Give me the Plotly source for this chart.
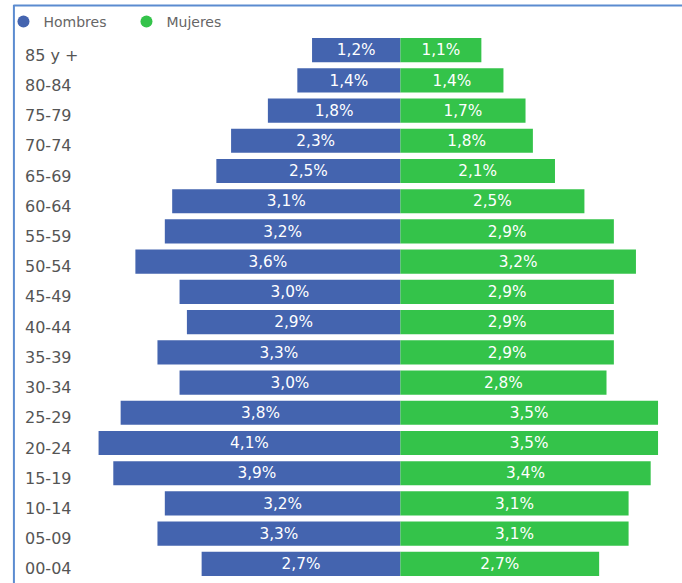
import plotly.graph_objects as go

# Age groups, oldest at the top
grupos = ["85 y +", "80-84", "75-79", "70-74", "65-69", "60-64", "55-59", "50-54",
          "45-49", "40-44", "35-39", "30-34", "25-29", "20-24", "15-19", "10-14",
          "05-09", "00-04"]
hombres = [1.2, 1.4, 1.8, 2.3, 2.5, 3.1, 3.2, 3.6, 3.0, 2.9, 3.3, 3.0, 3.8, 4.1, 3.9, 3.2, 3.3, 2.7]
mujeres = [1.1, 1.4, 1.7, 1.8, 2.1, 2.5, 2.9, 3.2, 2.9, 2.9, 2.9, 2.8, 3.5, 3.5, 3.4, 3.1, 3.1, 2.7]

AZUL = "#4464AF"
VERDE = "#34C34A"
FONT = "DejaVu Sans"

W, H = 682, 583
ML, MR, MT, MB = 90, 17, 35, 4
PW, PH = W - ML - MR, H - MT - MB


def px_x(px):
    return (px - ML) / PW


def px_y(py):
    return (H - MB - py) / PH


def etiqueta(v):
    return f"{v:.1f}%".replace(".", ",")


fig = go.Figure()

fig.add_trace(go.Bar(
    y=grupos, x=[-v for v in hombres], orientation="h",
    marker=dict(color=AZUL, line=dict(width=0)),
    text=[etiqueta(v) for v in hombres], textposition="inside",
    insidetextanchor="middle", textangle=0,
    textfont=dict(family=FONT, size=16, color="white"),
    showlegend=False, hoverinfo="skip",
))
fig.add_trace(go.Bar(
    y=grupos, x=mujeres, orientation="h",
    marker=dict(color=VERDE, line=dict(width=0)),
    text=[etiqueta(v) for v in mujeres], textposition="inside",
    insidetextanchor="middle", textangle=0,
    textfont=dict(family=FONT, size=16, color="white"),
    showlegend=False, hoverinfo="skip",
))

# Legend entries with round markers (no visible points)
for nombre, color in (("Hombres", AZUL), ("Mujeres", VERDE)):
    fig.add_trace(go.Scatter(
        x=[None], y=[grupos[0]], mode="markers", name=nombre,
        marker=dict(color=color, size=12, symbol="circle"),
        hoverinfo="skip",
    ))

# Left-aligned age-group labels
for g in grupos:
    fig.add_annotation(
        x=px_x(20), xref="paper", xanchor="left",
        y=g, yref="y", yshift=-5, showarrow=False,
        text=g, font=dict(family=FONT, size=16, color="#555555"),
    )

# Frame lines (top and left)
borde = dict(color="#5B8BD0", width=2)
fig.add_shape(type="line", xref="paper", yref="paper",
              x0=px_x(10), x1=px_x(W + 2), y0=px_y(5.5), y1=px_y(5.5), line=borde)
fig.add_shape(type="line", xref="paper", yref="paper",
              x0=px_x(10.5), x1=px_x(10.5), y0=px_y(5), y1=px_y(H + 2), line=borde)

escala = 74.0  # pixels per percentage point
fig.update_layout(
    width=W, height=H,
    margin=dict(l=ML, r=MR, t=MT, b=MB, pad=0),
    paper_bgcolor="white", plot_bgcolor="white",
    barmode="relative", bargap=0.2,
    uniformtext=dict(mode="show", minsize=10),
    xaxis=dict(range=[-(399 - ML) / escala, (W - MR - 399) / escala],
               visible=False, fixedrange=True),
    yaxis=dict(type="category", categoryorder="array", categoryarray=grupos,
               range=[len(grupos) - 0.5, -0.5], autorange=False,
               showticklabels=False, showgrid=False, zeroline=False, fixedrange=True),
    legend=dict(orientation="h", x=px_x(0), xanchor="left", y=px_y(22), yanchor="middle",
                entrywidth=78,
                font=dict(family=FONT, size=14, color="#666666"),
                bgcolor="rgba(0,0,0,0)", itemclick=False, itemdoubleclick=False,
                tracegroupgap=0),
    showlegend=True,
)

fig.write_html("out.html")
